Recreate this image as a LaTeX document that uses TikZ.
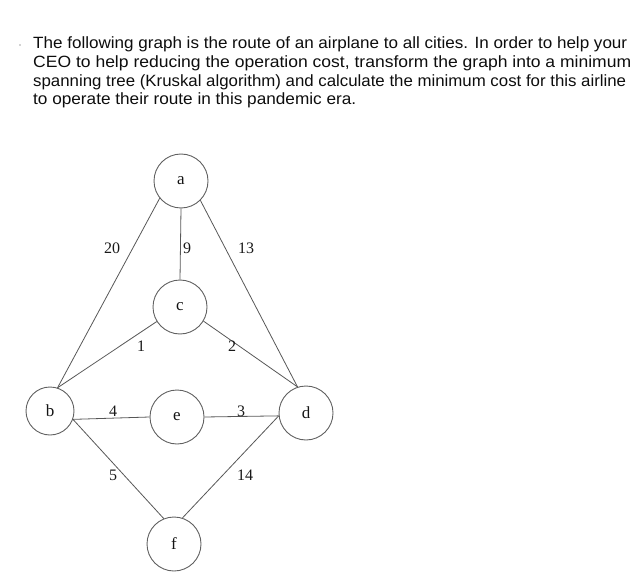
\documentclass[tikz,border=0pt]{standalone}
\usepackage{fontspec}
\usepackage{graphicx}
\setmainfont{Liberation Serif}
\newfontfamily\hdrfont{Liberation Sans}
\tikzset{
  city/.style={circle, draw=black!62, line width=0.9pt, minimum size=54pt, inner sep=0pt,
    font=\fontsize{17}{17}\selectfont, text=black!92},
  cityb/.style={city, minimum size=48pt},
  route/.style={draw=black!66, line width=0.8pt},
  wt/.style={inner sep=0pt, font=\fontsize{16}{16}\selectfont, text=black!90},
  hdr/.style={inner sep=0pt, anchor=base west, font=\hdrfont\fontsize{16.3}{19}\selectfont, text=black!95}
}
\begin{document}
\begin{tikzpicture}[x=1pt,y=-1pt]
\useasboundingbox (0,0) rectangle (639,585);
% header text
\fill[black!35] (20,45) circle (0.8pt);
\node[hdr] (t1) at (33,48.3) {\resizebox{594pt}{\height}{The following graph is the route of an airplane to all cities. In order to help your}};
\node[hdr] (t2) at (33,67.2) {\resizebox{598pt}{\height}{CEO to help reducing the operation cost, transform the graph into a minimum}};
\node[hdr] (t3) at (33,86.1) {\resizebox{593pt}{\height}{spanning tree (Kruskal algorithm) and calculate the minimum cost for this airline}};
\node[hdr] (t4) at (33,105) {\resizebox{323pt}{\height}{to operate their route in this pandemic era.}};
% cities
\node[city]  (a) at (181,181) {a};
\node[city]  (c) at (180,307) {c};
\node[cityb] (b) at (50,411)  {b};
\node[city]  (e) at (177,417) {e};
\node[city]  (d) at (306,413) {d};
\node[city]  (f) at (174,544) {f};
% routes
\draw[route] (a.219) -- (b.72);
\draw[route] (a.south) -- (c.north);
\draw[route] (a.-45) -- (d.108);
\draw[route] (c.212) -- (b.72);
\draw[route] (c.-31) -- (d.108);
\draw[route] (b.-20) -- (e.west);
\draw[route] (e.east) -- (d.186);
\draw[route] (b.-20) -- (f.112);
\draw[route] (f.72) -- (d.186);
% weights
\node[wt] (w20) at (112,248) {20};
\node[wt] (w9)  at (187,248) {9};
\node[wt] (w13) at (246,248) {13};
\node[wt] (w1)  at (141,346) {1};
\node[wt] (w2)  at (232,346) {2};
\node[wt] (w4)  at (113,411) {4};
\node[wt] (w3)  at (241,411) {3};
\node[wt] (w5)  at (113,475) {5};
\node[wt] (w14) at (245,475) {14};
\end{tikzpicture}
\end{document}
